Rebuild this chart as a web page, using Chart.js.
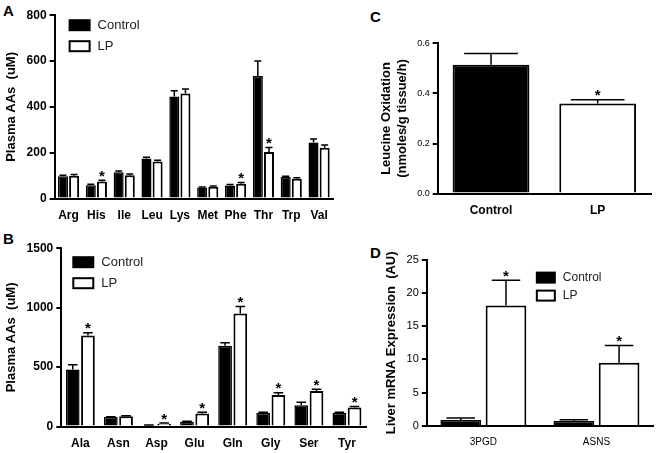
<!DOCTYPE html>
<html><head><meta charset="utf-8">
<script src="https://cdn.jsdelivr.net/npm/chart.js@4/dist/chart.umd.min.js"></script>
<style>
body{margin:0;background:#fff;width:657px;height:453px;position:relative;overflow:hidden;font-family:"Liberation Sans",Arial,sans-serif}
.p{position:absolute}
.lbl{position:absolute;font-weight:bold;font-size:15px}
</style></head><body>
<div class="lbl" style="left:3px;top:2px">A</div>
<div class="lbl" style="left:3px;top:230px">B</div>
<div class="lbl" style="left:370px;top:8px">C</div>
<div class="lbl" style="left:370px;top:244px">D</div>
<div class="p" style="left:0;top:5px;width:337px;height:220px"><canvas id="cA"></canvas></div>
<div class="p" style="left:0;top:238px;width:370px;height:215px"><canvas id="cB"></canvas></div>
<div class="p" style="left:375px;top:35px;width:280px;height:185px"><canvas id="cC"></canvas></div>
<div class="p" style="left:380px;top:250px;width:277px;height:200px"><canvas id="cD"></canvas></div>
<script>
// panel A
const aaA = ["Arg","His","Ile","Leu","Lys","Met","Phe","Thr","Trp","Val"];
const ctrlA = [97,58,115,175,445,48,57,535,95,245];
const ctrlAErr = [5,5,5,5,25,3,4,65,3,15];
const lpA = [100,75,102,162,458,52,65,203,87,222];
const lpAErr = [5,5,5,5,20,3,5,20,4,12];
const sigA = [false,true,false,false,false,false,true,true,false,false];
// panel B
const aaB = ["Ala","Asn","Asp","Glu","Gln","Gly","Ser","Tyr"];
const ctrlB = [480,80,10,40,680,115,180,115];
const ctrlBErr = [40,3,3,5,25,5,25,5];
const lpB = [765,88,25,110,950,265,300,160];
const lpBErr = [25,3,5,10,60,20,15,10];
const sigB = [true,false,true,true,true,true,true,true];
// panel C
const groupsC = ["Control","LP"];
const leuOx = [0.515,0.36];
const leuOxErr = [0.045,0.015];
const sigC = [false,true];
// panel D
const genesD = ["3PGD","ASNS"];
const ctrlD = [0.9,0.75];
const ctrlDErr = [0.3,0.2];
const lpD = [18.1,9.5];
const lpDErr = [3.8,2.6];
const sigD = [true,true];

const FONT = "'Liberation Sans', Arial, sans-serif";

const errPlugin = {
  id: "err",
  afterDatasetsDraw(chart) {
    const ctx = chart.ctx, y = chart.scales.y;
    chart.data.datasets.forEach((ds, di) => {
      const meta = chart.getDatasetMeta(di);
      meta.data.forEach((bar, i) => {
        const v = ds.data[i], e = ds.err ? ds.err[i] : 0;
        const top = y.getPixelForValue(v + e), w = bar.width * 0.35;
        ctx.save();
        ctx.strokeStyle = "#000"; ctx.lineWidth = 1.5;
        if (e) {
          ctx.beginPath();
          ctx.moveTo(bar.x, bar.y); ctx.lineTo(bar.x, top);
          ctx.moveTo(bar.x - w, top); ctx.lineTo(bar.x + w, top);
          ctx.stroke();
        }
        if (ds.sig && ds.sig[i]) {
          ctx.fillStyle = "#000";
          ctx.font = "bold 15px " + FONT;
          ctx.textAlign = "center"; ctx.textBaseline = "bottom";
          ctx.fillText("*", bar.x, top + 4);
        }
        ctx.restore();
      });
    });
  }
};

const legendPlugin = {
  id: "lg",
  afterDraw(chart, args, o) {
    if (!o.show) return;
    const ctx = chart.ctx;
    const x = chart.chartArea.left + o.dx, y0 = chart.chartArea.top + o.dy;
    ctx.save();
    ctx.font = o.size + "px " + FONT;
    ctx.textBaseline = "middle";
    ["Control","LP"].forEach((t, k) => {
      const y = y0 + k * o.gap;
      ctx.lineWidth = 2; ctx.strokeStyle = "#000";
      ctx.fillStyle = k ? "#fff" : "#000";
      ctx.fillRect(x, y - 5, o.w, 10); ctx.strokeRect(x, y - 5, o.w, 10);
      ctx.fillStyle = "#222"; ctx.fillText(t, x + o.w + 8, y);
    });
    ctx.restore();
  }
};

function mk(id, labels, datasets, yopt, title, lg, xfont, cat, bar) {
  return new Chart(document.getElementById(id), {
    type: "bar",
    data: { labels, datasets },
    plugins: [errPlugin, legendPlugin],
    options: {
      responsive: true, maintainAspectRatio: false, animation: false,
      layout: { padding: { top: 4, right: 4 } },
      plugins: { legend: { display: false }, tooltip: { enabled: false }, lg },
      scales: {
        x: {
          grid: { display: false }, border: { color: "#000", width: 2 },
          categoryPercentage: cat, barPercentage: bar,
          ticks: { color: "#000", font: xfont, maxRotation: 0, minRotation: 0, autoSkip: false, padding: 2 }
        },
        y: Object.assign({
          grid: { drawOnChartArea: false, drawTicks: true, tickLength: 5, color: "#000", lineWidth: 2 },
          border: { color: "#000", width: 2 },
          title: { display: true, text: title, color: "#000", font: { family: FONT, weight: "bold", size: 13 } }
        }, yopt)
      }
    }
  });
}

const bold12 = { family: FONT, weight: "bold", size: 12 };
const blk = { backgroundColor: "#000", borderColor: "#000", borderWidth: 1.5 };
const wht = { backgroundColor: "#fff", borderColor: "#000", borderWidth: 2 };
const plain = v => String(v);

mk("cA", aaA, [
  Object.assign({ data: ctrlA, err: ctrlAErr }, blk),
  Object.assign({ data: lpA, err: lpAErr, sig: sigA }, wht)
], { min: 0, max: 800, ticks: { stepSize: 200, color: "#000", font: bold12, callback: plain } },
  "Plasma AAs  (uM)", { show: true, dx: 15, dy: 10, gap: 21, w: 20, size: 13 }, bold12, 0.75, 0.9);

mk("cB", aaB, [
  Object.assign({ data: ctrlB, err: ctrlBErr }, blk),
  Object.assign({ data: lpB, err: lpBErr, sig: sigB }, wht)
], { min: 0, max: 1500, ticks: { stepSize: 500, color: "#000", font: bold12, callback: plain } },
  "Plasma AAs  (uM)", { show: true, dx: 12, dy: 14, gap: 21, w: 20, size: 13 }, bold12, 0.7, 0.9);

mk("cC", groupsC, [
  { data: leuOx, err: leuOxErr, sig: sigC, backgroundColor: ["#000","#fff"], borderColor: "#000", borderWidth: 2 }
], { min: 0, max: 0.6, ticks: { stepSize: 0.2, color: "#000", font: { family: FONT, size: 9 }, callback: v => v.toFixed(1) } },
  ["Leucine Oxidation","(nmoles/g tissue/h)"], { show: false }, bold12, 0.85, 1);

mk("cD", genesD, [
  Object.assign({ data: ctrlD, err: ctrlDErr }, blk),
  Object.assign({ data: lpD, err: lpDErr, sig: sigD }, wht)
], { min: 0, max: 25, ticks: { stepSize: 5, color: "#000", font: { family: FONT, size: 11 } } },
  "Liver mRNA Expression  (AU)", { show: true, dx: 110, dy: 18, gap: 18, w: 18, size: 12 },
  { family: FONT, size: 10 }, 0.55, 0.95);
</script>
</body></html>
